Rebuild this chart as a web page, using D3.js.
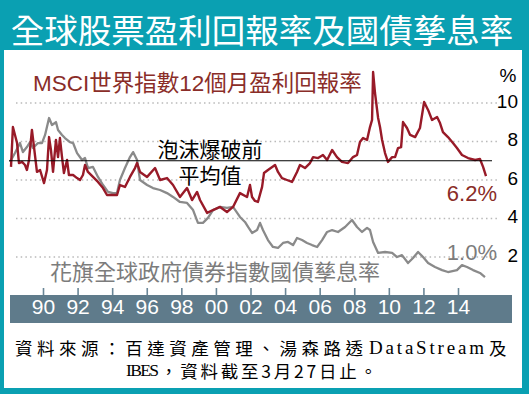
<!DOCTYPE html>
<html><head><meta charset="utf-8">
<script src="https://cdn.jsdelivr.net/npm/d3@7"></script>
<style>
html,body{margin:0;padding:0;background:#0aa0b2;}
svg{display:block;}
</style></head>
<body>
<script>
// ---- data (years as decimal, values in %) ----
const msciYears = [1988.15,1988.26,1988.50,1988.61,1988.79,1988.96,1989.07,1989.19,1989.36,1989.48,1989.65,1989.83,1990.06,1990.23,1990.35,1990.46,1990.58,1990.75,1990.87,1990.98,1991.10,1991.21,1991.39,1991.50,1991.74,1991.97,1992.14,1992.31,1992.43,1992.60,1992.89,1993.18,1993.47,1993.70,1993.99,1994.28,1994.45,1994.74,1995.03,1995.32,
  1995.44,1995.61,1996.02,1996.48,1996.77,1997.17,1997.52,1997.92,1998.10,1998.33,1998.62,1998.91,1999.08,1999.49,1999.83,2000.24,2000.64,2000.99,2001.39,2001.80,2001.97,2002.09,2002.26,2002.43,2002.67,2002.78,2003.01,2003.42,2003.59,2003.82,2004.11,2004.40,2004.69,2004.86,2005.15,2005.44,2005.62,2005.91,2006.19,2006.43,2006.72,2007.00,2007.29,2007.64,2007.93,2008.16,2008.33,2008.51,2008.74,2008.91,2009.03,2009.09,2009.20,2009.38,2009.49,2009.61,2009.78,2009.95,2010.19,2010.36,2010.53,2010.71,2010.82,2011.05,2011.23,2011.52,2011.80,2012.04,2012.27,2012.50,2012.79,2012.96,2013.13,2013.42,2013.71,2013.94,2014.23,2014.58,2014.99,2015.27,2015.45,2015.62];
const msciValues = [6.68,8.75,7.92,6.88,6.94,6.78,6.52,7.04,8.60,7.71,6.42,6.52,5.84,6.52,8.23,7.56,6.42,8.08,7.19,8.18,7.19,6.36,7.04,6.26,6.26,6.10,6.00,6.26,6.78,6.42,6.16,5.90,5.58,5.22,5.22,5.22,5.74,5.64,6.16,6.62,
  6.88,6.42,6.16,6.62,6.00,6.10,5.74,5.12,5.32,5.58,4.96,5.38,4.96,4.29,4.44,4.60,4.34,4.60,5.32,5.12,5.74,5.12,4.91,4.86,5.64,6.36,6.52,6.78,6.42,6.10,6.00,5.90,6.42,6.78,6.62,6.88,7.19,7.14,7.30,7.04,7.56,7.19,6.94,6.88,7.19,7.30,7.97,8.18,8.08,8.75,9.12,11.61,10.52,9.22,8.75,8.08,7.40,6.94,7.19,7.19,7.66,7.71,9.01,8.70,8.34,8.23,8.70,10.05,9.64,9.12,9.27,8.96,8.49,8.23,7.92,7.66,7.30,7.14,7.04,7.09,6.68,6.20];

const bondYears = [1988.09,1988.38,1988.67,1988.84,1989.07,1989.25,1989.42,1989.71,1989.94,1990.12,1990.35,1990.52,1990.75,1990.87,1991.10,1991.27,1991.56,1991.74,1991.97,1992.26,1992.43,1992.60,1992.89,1993.18,1993.47,1993.76,1994.05,1994.28,1994.45,1994.74,1995.03,1995.21,
  1995.44,1995.61,1996.02,1996.36,1996.77,1997.17,1997.52,1997.92,1998.33,1998.68,1998.96,1999.25,1999.54,1999.83,2000.24,2000.64,2000.99,2001.39,2001.68,2001.86,2002.09,2002.38,2002.55,2002.72,2003.01,2003.30,2003.59,2003.88,2004.17,2004.46,2004.69,2004.98,2005.27,2005.56,2005.85,2006.14,2006.43,2006.72,2007.06,2007.47,2007.87,2008.16,2008.45,2008.74,2008.91,2009.09,2009.38,2009.78,2010.19,2010.47,2010.76,2011.11,2011.40,2011.69,2011.98,2012.27,2012.67,2013.08,2013.42,2013.94,2014.23,2014.52,2014.87,2015.27,2015.56];
const bondValues = [6.94,7.40,7.92,7.45,7.71,7.97,7.66,7.92,7.92,8.34,9.22,8.86,9.01,8.60,8.34,8.18,7.97,7.92,7.40,7.04,7.14,6.62,6.68,6.16,5.74,5.38,5.32,5.32,6.00,6.62,7.19,7.45,
  7.04,6.00,5.74,5.58,5.48,5.32,5.12,4.86,4.81,4.44,3.77,3.77,4.03,4.44,4.60,4.55,4.60,4.08,3.82,3.56,3.25,3.40,3.77,3.40,2.88,2.52,2.47,2.73,2.78,2.62,2.99,2.88,2.73,2.62,2.52,2.88,3.30,3.40,3.30,3.56,3.92,3.56,3.30,3.51,3.40,2.78,2.21,2.26,2.21,2.00,2.10,1.69,1.95,2.26,2.00,1.69,1.48,1.32,1.22,1.32,1.58,1.48,1.32,1.17,0.95];

const preBubbleAvg = 7.0;
const xTickYears = [1990,1992,1994,1996,1998,2000,2002,2004,2006,2008,2010,2012,2014];
const xTickLabels = ["90","92","94","96","98","00","02","04","06","08","10","12","14"];
const yTicks = [2,4,6,8,10];

const titleText = "全球股票盈利回報率及國債孳息率";
const msciLabel = "MSCI世界指數12個月盈利回報率";
const bondLabel = "花旗全球政府債券指數國債孳息率";
const refLabel1 = "泡沫爆破前";
const refLabel2 = "平均值";
const msciLast = "6.2%";
const bondLast = "1.0%";
const source1Parts = ["資料來源：百達資產管理、湯森路透", "DataStream", "及"];
const source2Parts = ["IBES", "，資料截至3月27日止。"];

// ---- drawing ----
const W = 529, H = 394;
const svg = d3.select("body").append("svg").attr("width", W).attr("height", H);
const teal = "#0aa0b2", red = "#981a28", redText = "#8a2d28", gray = "#8a8a8a", grayText = "#7c7c7c";

svg.append("rect").attr("width", W).attr("height", H).attr("fill", teal);
svg.append("rect").attr("x", 4).attr("y", 50).attr("width", 518).attr("height", 338).attr("fill", "#fff");

svg.append("text").attr("x", 262).attr("y", 28).attr("text-anchor", "middle")
  .attr("dominant-baseline", "central").attr("fill", "#fff")
  .style("font-family", "'Noto Sans CJK TC'").style("font-size", "33.5px")
  .text(titleText);

const x = d3.scaleLinear().domain([1990, 2014]).range([43, 458]);
const y = d3.scaleLinear().domain([0, 10]).range([295.5, 103]);

// gridlines
svg.append("g").selectAll("line").data(yTicks).join("line")
  .attr("x1", 16).attr("x2", 498)
  .attr("y1", d => y(d)).attr("y2", d => y(d))
  .attr("stroke", "#b9b9b9").attr("stroke-width", 1.4).attr("stroke-dasharray", "1.5,3.2");

// y labels
svg.append("g").selectAll("text").data(yTicks).join("text")
  .attr("x", 518).attr("y", d => y(d) - 2).attr("text-anchor", "end")
  .attr("dominant-baseline", "central")
  .style("font-family", "'Liberation Sans', Arial").style("font-size", "19px").attr("fill", "#000")
  .text(d => d);
svg.append("text").attr("x", 508).attr("y", 75).attr("text-anchor", "middle").attr("dominant-baseline", "central")
  .style("font-family", "'Liberation Sans', Arial").style("font-size", "19px").text("%");

// axis band
svg.append("rect").attr("x", 10).attr("y", 295).attr("width", 502).attr("height", 28).attr("fill", "#5f7b8b");
const axTicks = svg.append("g").attr("transform", "translate(0,295)")
  .call(d3.axisTop(x).tickValues(xTickYears).tickSize(7).tickFormat(""));
axTicks.select(".domain").remove();
axTicks.selectAll("line").attr("stroke", "#6a8697").attr("stroke-width", 1.6);
const axLabels = svg.append("g").attr("transform", "translate(0,296)")
  .call(d3.axisBottom(x).tickValues(xTickYears).tickSize(0).tickPadding(3)
    .tickFormat((d, i) => xTickLabels[i]));
axLabels.select(".domain").remove();
axLabels.selectAll("text").attr("fill", "#fff")
  .style("font-family", "'Liberation Sans', Arial").style("font-size", "21px");

// lines
const line = d3.line().x(d => x(d[0])).y(d => y(d[1]));
const bondData = d3.zip(bondYears, bondValues);
const msciData = d3.zip(msciYears, msciValues);
svg.append("path").datum(bondData).attr("d", line).attr("fill", "none")
  .attr("stroke", gray).attr("stroke-width", 2.3).attr("stroke-linejoin", "round");
svg.append("path").datum(msciData).attr("d", line).attr("fill", "none")
  .attr("stroke", red).attr("stroke-width", 2.4).attr("stroke-linejoin", "round");

// reference line
svg.append("line").attr("x1", 9).attr("x2", 492).attr("y1", y(preBubbleAvg)).attr("y2", y(preBubbleAvg))
  .attr("stroke", "#000").attr("stroke-width", 1.2);

const cjk = "'Noto Sans CJK TC', 'Noto Sans CJK SC', sans-serif";
svg.append("text").attr("x", 210).attr("y", 147.5).attr("text-anchor", "middle").attr("dominant-baseline", "central")
  .style("font-family", cjk).style("font-size", "21px").attr("fill", "#000").text(refLabel1);
svg.append("text").attr("x", 210).attr("y", 173.5).attr("text-anchor", "middle").attr("dominant-baseline", "central")
  .style("font-family", cjk).style("font-size", "21px").attr("fill", "#000").text(refLabel2);

svg.append("text").attr("x", 33).attr("y", 83).attr("dominant-baseline", "central")
  .style("font-family", "'Liberation Sans', " + cjk).style("font-size", "22.5px").attr("fill", redText)
  .text(msciLabel);
svg.append("text").attr("x", 50).attr("y", 270).attr("dominant-baseline", "central")
  .style("font-family", cjk).style("font-size", "22px").attr("fill", grayText)
  .text(bondLabel);

svg.append("text").attr("x", 497).attr("y", 193).attr("text-anchor", "end").attr("dominant-baseline", "central")
  .style("font-family", "'Liberation Sans', Arial").style("font-size", "22px").attr("fill", redText).text(msciLast);
svg.append("text").attr("x", 497).attr("y", 252).attr("text-anchor", "end").attr("dominant-baseline", "central")
  .style("font-family", "'Liberation Sans', Arial").style("font-size", "22px").attr("fill", grayText).text(bondLast);

// source (CJK spaced, Latin compact, like the original)
const cjkSrc = "'Noto Sans CJK TC', serif";
const latSrc = "'Liberation Serif', serif";
function srcText(str, x0, len, yy, fam, size) {
  svg.append("text").attr("x", x0).attr("y", yy).attr("dominant-baseline", "central")
    .attr("textLength", len).attr("lengthAdjust", "spacing")
    .style("font-family", fam).style("font-size", size + "px").attr("fill", "#000").text(str);
}
srcText(source1Parts[0], 15, 348, 347, cjkSrc, 17.5);
srcText(source1Parts[1], 369, 115, 347, latSrc, 19);
srcText(source1Parts[2], 489, 20, 347, cjkSrc, 17.5);
srcText(source2Parts[0], 126, 33, 370, latSrc, 17.5);
srcText(source2Parts[1], 160, 217, 370, cjkSrc, 17.5);
</script>
</body></html>
